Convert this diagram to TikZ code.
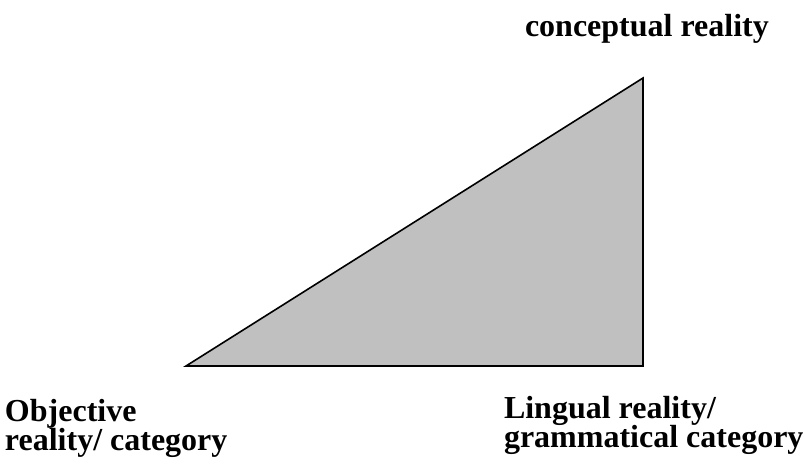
\documentclass[tikz,border=0pt]{standalone}
\usepackage{fontspec}
\setmainfont{Liberation Serif}
\definecolor{trifill}{HTML}{C0C0C0}
\newcommand\mylblfont{\fontsize{32}{29}\selectfont\bfseries\setlength{\lineskiplimit}{-100pt}}
\begin{document}
\begin{tikzpicture}[x=1pt,y=-1pt,
  lbl/.style={inner sep=0pt,outer sep=0pt,align=left,anchor=base west,
    font=\mylblfont}]
\useasboundingbox (0,0) rectangle (805,464);
\coordinate (A) at (186,366);
\coordinate (B) at (643,366);
\coordinate (C) at (643,78);
\filldraw[fill=trifill,draw=black,line width=1.6pt,line join=miter] (A) -- (B) -- (C) -- cycle;
\node[lbl] (top) at (525,36) {conceptual reality};
\node[lbl] (left) at (5,450) {Objective\\reality/ category};
\node[lbl] (right) at (504,447) {Lingual reality/\\grammatical category};
\end{tikzpicture}
\end{document}
